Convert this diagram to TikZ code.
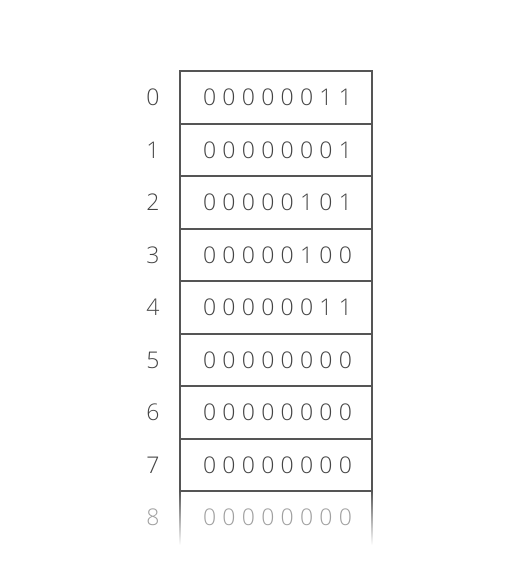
\documentclass[tikz,border=0pt]{standalone}
\usepackage{fontspec}
\setmainfont{Open Sans}[UprightFont={* Light}]
\usetikzlibrary{fadings,calc}
\definecolor{linegray}{HTML}{555555}
\definecolor{txtgray}{HTML}{444444}
\definecolor{fadegray}{HTML}{A0A0A0}
\newcommand\bd[1]{\makebox[19.4pt]{#1}}
\newcommand\bitrow[8]{\bd{#1}\bd{#2}\bd{#3}\bd{#4}\bd{#5}\bd{#6}\bd{#7}\bd{#8}}
\begin{document}
\begin{tikzpicture}[x=1pt,y=1pt,
  cell/.style={draw=linegray,line width=1.5pt,minimum width=192pt,inner sep=0pt},
  bits/.style={text=txtgray,inner sep=0pt,font=\fontsize{23}{27}\selectfont},
  idx/.style={text=txtgray,inner sep=0pt,font=\fontsize{23}{27}\selectfont}]
\useasboundingbox (0,0) rectangle (511,587);
\foreach \i/\b/\ta/\tb in {0/00000011/71/124,1/00000001/124/176,2/00000101/176/229,3/00000100/229/281,4/00000011/281/334,5/00000000/334/386,6/00000000/386/439,7/00000000/439/491}{
  \node[cell,minimum height={(\tb-\ta)*1pt}] (r\i) at (276,{587-(\ta+\tb)/2}) {};
  \node[bits] (t\i) at (277.5,{587-(\ta+\tb)/2}) {\expandafter\bitrow\b};
  \node[idx] (l\i) at (153,{587-(\ta+\tb)/2}) {\i};
}
\node[bits,text=fadegray] (t8) at (277.5,{587-517}) {\bitrow00000000};
\node[idx,text=fadegray] (l8) at (153,{587-517}) {8};
\coordinate (c8l) at (180,{587-491});
\coordinate (c8r) at (372,{587-491});
\fill[linegray,path fading=south] ($(c8l)+(-0.75,0)$) rectangle ++(1.5,-54);
\fill[linegray,path fading=south] ($(c8r)+(-0.75,0)$) rectangle ++(1.5,-54);
\end{tikzpicture}
\end{document}
